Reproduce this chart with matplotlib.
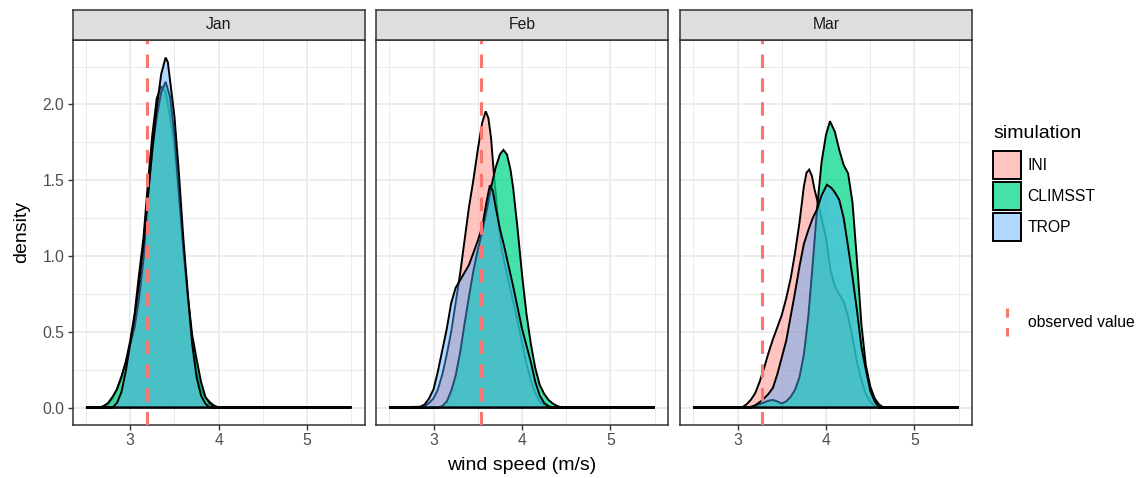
import matplotlib
matplotlib.use("Agg")
import matplotlib.pyplot as plt
from matplotlib.colors import to_rgba
from matplotlib.patches import Patch
from matplotlib.lines import Line2D
from matplotlib.legend_handler import HandlerBase

plt.rcParams['font.family'] = ['Liberation Sans', 'DejaVu Sans']

months = ["Jan", "Feb", "Mar"]
simulations = ["INI", "CLIMSST", "TROP"]
observed = [3.19, 3.54, 3.28]

# density curves (x in m/s, density)
jan_ini_x = [2.5, 2.7, 2.75, 2.8, 2.85, 2.9, 2.95, 3.0, 3.05, 3.1, 3.15, 3.2, 3.25, 3.3, 3.35, 3.4,
             3.45, 3.5, 3.55, 3.6, 3.65, 3.7, 3.75, 3.8, 3.85, 3.9, 3.95, 4.0, 5.5]
jan_ini_y = [0, 0, 0.02, 0.06, 0.12, 0.2, 0.30, 0.44, 0.62, 0.88, 1.12, 1.48, 1.80, 2.04, 2.12, 2.08,
             1.92, 1.72, 1.40, 1.05, 0.72, 0.44, 0.24, 0.12, 0.065, 0.035, 0.012, 0, 0]
jan_clim_x = [2.5, 2.65, 2.7, 2.75, 2.8, 2.85, 2.9, 2.95, 3.0, 3.05, 3.1, 3.15, 3.2, 3.25, 3.3, 3.35,
              3.4, 3.45, 3.5, 3.55, 3.6, 3.65, 3.7, 3.75, 3.8, 3.85, 3.9, 3.95, 4.0, 5.5]
jan_clim_y = [0, 0, 0.01, 0.03, 0.07, 0.12, 0.2, 0.3, 0.42, 0.53, 0.72, 0.98, 1.38, 1.70, 1.92, 2.08,
              2.15, 2.05, 1.80, 1.42, 1.05, 0.74, 0.48, 0.32, 0.17, 0.07, 0.025, 0.008, 0, 0]
jan_trop_x = [2.5, 2.8, 2.85, 2.9, 2.95, 3.0, 3.05, 3.1, 3.15, 3.2, 3.25, 3.3, 3.35, 3.4, 3.425,
              3.45, 3.5, 3.55, 3.6, 3.65, 3.7, 3.75, 3.8, 3.85, 3.9, 5.5]
jan_trop_y = [0, 0, 0.03, 0.10, 0.24, 0.42, 0.60, 0.82, 1.08, 1.40, 1.70, 1.98, 2.20, 2.31, 2.28,
              2.16, 1.92, 1.55, 1.12, 0.76, 0.42, 0.20, 0.08, 0.025, 0, 0]

feb_ini_x = [2.5, 2.85, 2.9, 2.95, 3.0, 3.05, 3.1, 3.15, 3.2, 3.25, 3.3, 3.35, 3.4, 3.45, 3.5, 3.55,
             3.59, 3.62, 3.65, 3.68, 3.72, 3.76, 3.8, 3.85, 3.9, 3.95, 4.0, 4.05, 4.1, 4.15, 4.2,
             4.25, 4.3, 5.5]
feb_ini_y = [0, 0, 0.01, 0.03, 0.06, 0.12, 0.22, 0.35, 0.50, 0.69, 0.88, 1.10, 1.32, 1.50, 1.70, 1.88,
             1.955, 1.91, 1.78, 1.56, 1.30, 1.08, 0.96, 0.83, 0.70, 0.57, 0.43, 0.29, 0.18, 0.095, 0.04,
             0.015, 0, 0]
feb_clim_x = [2.5, 3.05, 3.1, 3.15, 3.2, 3.25, 3.3, 3.35, 3.4, 3.45, 3.5, 3.55, 3.6, 3.65, 3.7, 3.75,
              3.79, 3.83, 3.87, 3.9, 3.95, 4.0, 4.05, 4.1, 4.15, 4.2, 4.25, 4.3, 4.35, 4.4, 4.45, 5.5]
feb_clim_y = [0, 0, 0.01, 0.04, 0.11, 0.21, 0.36, 0.55, 0.73, 0.90, 1.04, 1.16, 1.30, 1.45, 1.58, 1.67,
              1.70, 1.67, 1.57, 1.45, 1.18, 0.88, 0.62, 0.42, 0.26, 0.15, 0.09, 0.05, 0.025, 0.01, 0, 0]
feb_trop_x = [2.5, 2.85, 2.9, 2.95, 3.0, 3.05, 3.1, 3.15, 3.2, 3.25, 3.3, 3.35, 3.4, 3.45, 3.5, 3.55,
              3.6, 3.637, 3.67, 3.7, 3.75, 3.8, 3.85, 3.9, 3.95, 4.0, 4.05, 4.1, 4.15, 4.2, 4.25, 4.3,
              4.35, 5.5]
feb_trop_y = [0, 0.005, 0.02, 0.06, 0.12, 0.24, 0.38, 0.52, 0.69, 0.79, 0.84, 0.89, 0.94, 1.02, 1.10, 1.19,
              1.36, 1.467, 1.43, 1.33, 1.18, 1.06, 0.93, 0.80, 0.66, 0.52, 0.41, 0.30, 0.17, 0.08, 0.03,
              0.008, 0, 0]

mar_ini_x = [2.5, 3.05, 3.1, 3.15, 3.2, 3.25, 3.3, 3.35, 3.4, 3.45, 3.5, 3.55, 3.6, 3.65, 3.7, 3.75,
             3.78, 3.81, 3.84, 3.87, 3.9, 3.95, 4.0, 4.05, 4.1, 4.15, 4.2, 4.25, 4.3, 4.35, 4.4, 4.45,
             4.5, 4.55, 4.6, 5.5]
mar_ini_y = [0, 0, 0.02, 0.05, 0.095, 0.17, 0.26, 0.36, 0.45, 0.53, 0.61, 0.72, 0.85, 1.02, 1.22, 1.46,
             1.55, 1.57, 1.53, 1.44, 1.37, 1.25, 1.12, 0.91, 0.80, 0.745, 0.70, 0.60, 0.46, 0.30, 0.18,
             0.09, 0.04, 0.01, 0, 0]
mar_clim_x = [2.5, 3.1, 3.15, 3.2, 3.25, 3.3, 3.35, 3.4, 3.45, 3.5, 3.55, 3.6, 3.65, 3.7, 3.75, 3.8,
              3.85, 3.9, 3.95, 4.0, 4.045, 4.1, 4.15, 4.2, 4.25, 4.3, 4.35, 4.4, 4.45, 4.5, 4.55, 4.6,
              4.65, 5.5]
mar_clim_y = [0, 0, 0.005, 0.012, 0.022, 0.033, 0.045, 0.05, 0.04, 0.027, 0.04, 0.07, 0.117, 0.2, 0.35,
              0.60, 0.95, 1.32, 1.62, 1.80, 1.89, 1.82, 1.70, 1.60, 1.545, 1.35, 0.97, 0.55, 0.28, 0.14,
              0.06, 0.02, 0, 0]
mar_trop_x = [2.5, 3.15, 3.2, 3.25, 3.3, 3.35, 3.4, 3.45, 3.5, 3.55, 3.6, 3.65, 3.7, 3.75, 3.8, 3.85,
              3.9, 3.95, 4.01, 4.06, 4.1, 4.15, 4.2, 4.25, 4.3, 4.35, 4.4, 4.45, 4.5, 4.55, 4.6, 5.5]
mar_trop_y = [0, 0, 0.015, 0.035, 0.06, 0.09, 0.13, 0.22, 0.33, 0.44, 0.60, 0.76, 0.93, 1.08, 1.17, 1.25,
              1.31, 1.40, 1.47, 1.45, 1.42, 1.37, 1.25, 1.06, 0.86, 0.64, 0.40, 0.25, 0.11, 0.04, 0, 0]

curves = {
    "Jan": [(jan_ini_x, jan_ini_y), (jan_clim_x, jan_clim_y), (jan_trop_x, jan_trop_y)],
    "Feb": [(feb_ini_x, feb_ini_y), (feb_clim_x, feb_clim_y), (feb_trop_x, feb_trop_y)],
    "Mar": [(mar_ini_x, mar_ini_y), (mar_clim_x, mar_clim_y), (mar_trop_x, mar_trop_y)],
}

fill_colors = ["#FF7C73", "#05D98B", "#50A9FF"]
fill_alpha = [0.45, 0.75, 0.45]
obs_color = "#F8766D"

W, H = 1139, 478
fig = plt.figure(figsize=(W / 100, H / 100), dpi=100)

panel_lefts = [72.7, 376, 680]
pw = 292
p_top, p_bot = 40, 425

for i, m in enumerate(months):
    l = panel_lefts[i]
    ax = fig.add_axes([l / W, (H - p_bot) / H, pw / W, (p_bot - p_top) / H])
    for j, (xs, ys) in enumerate(curves[m]):
        ax.fill(xs, ys, facecolor=to_rgba(fill_colors[j], fill_alpha[j]),
                edgecolor="black", lw=1.4, zorder=2 + j)
    ax.axvline(observed[i], color=obs_color, lw=2.2, dashes=(4.4, 3.4), zorder=10)

    ax.set_xlim(2.35, 5.65)
    ax.set_ylim(-0.1155, 2.4255)
    ax.set_xticks([3, 4, 5])
    ax.set_xticks([2.5, 3.5, 4.5, 5.5], minor=True)
    ax.set_yticks([0, 0.5, 1.0, 1.5, 2.0])
    ax.set_yticks([0.25, 0.75, 1.25, 1.75, 2.25], minor=True)
    ax.set_yticklabels(["0.0", "0.5", "1.0", "1.5", "2.0"])
    ax.grid(which="major", color="#EBEBEB", lw=1.3)
    ax.grid(which="minor", color="#EBEBEB", lw=0.7)
    ax.set_axisbelow(True)
    ax.tick_params(which="major", direction="out", length=3.5, width=1.0, color="#333333",
                   labelcolor="#4D4D4D", labelsize=11.3, pad=2.5)
    ax.tick_params(which="minor", length=0)
    if i > 0:
        ax.tick_params(axis="y", which="both", left=False, labelleft=False)
    for s in ax.spines.values():
        s.set_color("#333333")
        s.set_linewidth(1.1)

    strip = fig.add_axes([l / W, (H - p_top) / H, pw / W, 30.5 / H])
    strip.set_facecolor("#DEDEDE")
    strip.set_xticks([])
    strip.set_yticks([])
    for s in strip.spines.values():
        s.set_color("#333333")
        s.set_linewidth(1.1)
    strip.text(0.5, 0.5, m, ha="center", va="center", fontsize=11.3, color="#1A1A1A",
               transform=strip.transAxes)

fig.text(522 / W, 1 - 465 / H, "wind speed (m/s)", ha="center", va="center", fontsize=14)
fig.text(22 / W, 1 - 232 / H, "density", ha="center", va="center", rotation=90, fontsize=14)

# legend for the simulations
fig.text(993 / W, 1 - 134 / H, "simulation", ha="left", va="center", fontsize=14)
handles = [Patch(facecolor=to_rgba(fill_colors[j], fill_alpha[j]), edgecolor="black", lw=1.4,
                 label=simulations[j]) for j in range(3)]
fig.legend(handles=handles, loc="upper left",
           bbox_to_anchor=(993 / W, 1 - 151 / H), frameon=False, fontsize=11.3,
           handlelength=1.8, handleheight=2.36, labelspacing=0.2,
           handletextpad=0.4, borderpad=0, borderaxespad=0)


class VLineHandler(HandlerBase):
    def create_artists(self, legend, orig_handle, xdescent, ydescent, width, height, fontsize, trans):
        x = -xdescent + width / 2
        ln = Line2D([x, x], [-ydescent + height, -ydescent], color=orig_handle.get_color(),
                    lw=orig_handle.get_linewidth(), transform=trans)
        ln.set_linestyle((1.4, (4.4, 3.4)))
        return [ln]


obs_handle = Line2D([], [], color=obs_color, lw=2.2)
fig.legend(handles=[obs_handle], labels=["observed value"], loc="upper left",
           bbox_to_anchor=(993 / W, 1 - 308 / H), frameon=False, fontsize=11.3,
           handlelength=1.8, handleheight=2.36, handletextpad=0.4, borderpad=0,
           borderaxespad=0, handler_map={Line2D: VLineHandler()})

fig.savefig("out.png", dpi=100)
